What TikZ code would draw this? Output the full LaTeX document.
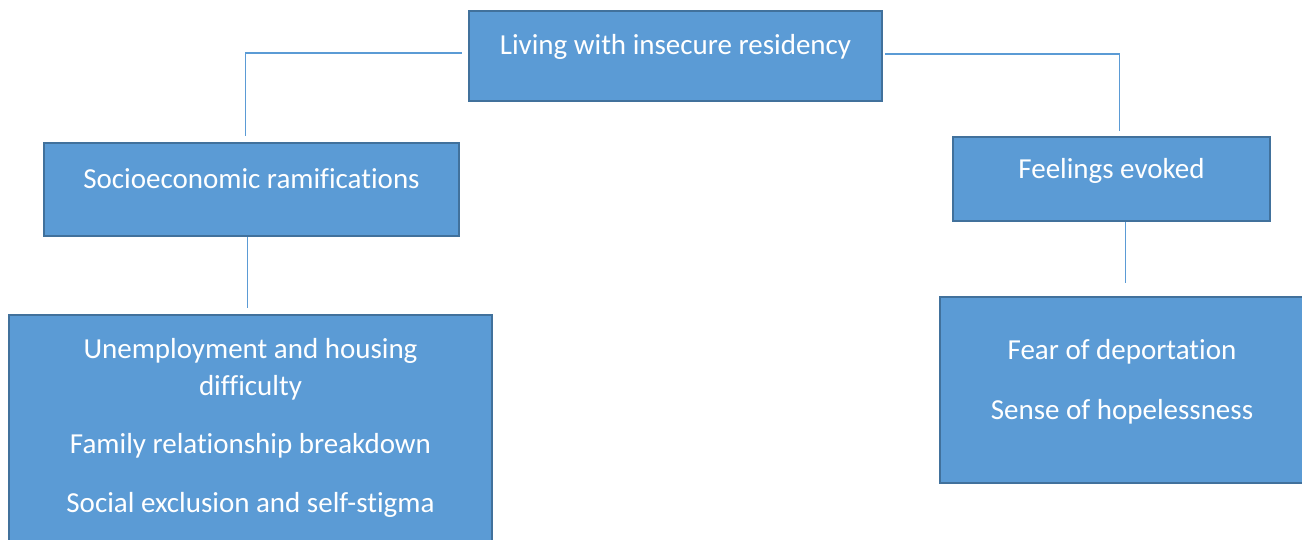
\documentclass[tikz,border=0pt]{standalone}
\usepackage{fontspec}
\setmainfont[Ligatures=NoCommon]{Carlito}
\usetikzlibrary{calc,positioning}
\definecolor{boxfill}{HTML}{5B9BD5}
\definecolor{boxline}{HTML}{41719C}
\definecolor{linkline}{HTML}{5B9BD5}

\begin{document}
\begin{tikzpicture}[x=0.5pt,y=-0.5pt,
  box/.style={draw=boxline,line width=1.1pt,fill=boxfill,text=white,align=center,inner sep=0pt},
  onebox/.style={box,text height=10pt,text depth=11pt},
  link/.style={draw=linkline,line width=0.75pt},
  font=\fontsize{14.5}{18.5}\selectfont]
\useasboundingbox (0,0) rectangle (1302,540);
\node[onebox,minimum width=206.5pt,minimum height=45pt] (living) at (675.5,56) {Living with insecure residency};
\node[onebox,minimum width=207.5pt,minimum height=46.5pt] (socio) at (251.5,189.5) {Socioeconomic ramifications};
\node[onebox,minimum width=158.5pt,minimum height=42pt] (feel) at (1111.5,179) {Feelings evoked};
\node[box,minimum width=241.5pt,minimum height=113pt] (impact) at (250.5,428) {Unemployment and housing\\difficulty\\[10.5pt]Family relationship breakdown\\[11pt]Social exclusion and self-stigma};
\node[box,minimum width=182pt,minimum height=93pt] (fear) at (1122,390) {Fear of deportation\\[11.5pt]Sense of hopelessness\\[-8pt]\mbox{}};
\draw[link,shorten <=3pt,shorten >=3pt] ([yshift=1.5pt]living.west) -| ([xshift=-3pt]socio.north);
\draw[link,shorten <=1pt,shorten >=2.5pt] ([yshift=1pt]living.east) -| ([xshift=4pt]feel.north);
\draw[link,shorten >=3pt] ([xshift=-2pt]socio.south) -- ([xshift=-2pt]socio.south |- impact.north);
\draw[link,shorten >=6.5pt] ([xshift=7pt]feel.south) -- ([xshift=7pt]feel.south |- fear.north);
\end{tikzpicture}
\end{document}
